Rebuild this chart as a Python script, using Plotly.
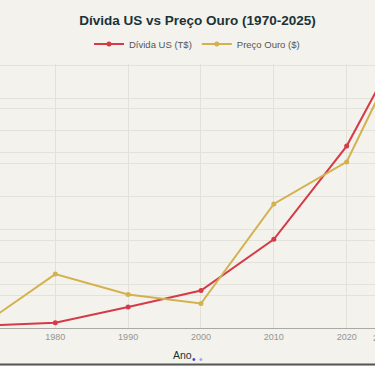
import plotly.graph_objects as go

years = [1970, 1980, 1990, 2000, 2010, 2020, 2025]
debt_trillions = [0.37, 0.8, 3.2, 5.7, 13.5, 27.7, 38.0]
gold_price = [36, 615, 383, 279, 1415, 1895, 2750]
x_tick_vals = [1970, 1980, 1990, 2000, 2010, 2020, 2025]
x_tick_text = [str(v) for v in x_tick_vals]

BG = "#F3F2EC"
GRID = "#E2E1DA"
RED = "#D63A48"
GOLD = "#D3B14E"
FONT = "Liberation Sans, Arial, sans-serif"

x_range = [1972.41, 2023.89]

fig = go.Figure()
fig.add_trace(go.Scatter(
    x=years, y=debt_trillions, name="Dívida US (T$)", mode="lines+markers",
    line=dict(color=RED, width=2), marker=dict(size=5, color=RED), yaxis="y"))
fig.add_trace(go.Scatter(
    x=years, y=gold_price, name="Preço Ouro ($)", mode="lines+markers",
    line=dict(color=GOLD, width=2), marker=dict(size=5, color=GOLD), yaxis="y2"))

fig.update_layout(
    width=375, height=366,
    margin=dict(l=0, r=0, t=64, b=38),
    paper_bgcolor=BG, plot_bgcolor=BG,
    font=dict(family=FONT, color="#555"),
    title=dict(text="Dívida US vs Preço Ouro (1970-2025)", x=197.5 / 375, xanchor="center",
               y=1 - 20 / 366, yanchor="middle",
               font=dict(size=13.5, color="#1A3338", family=FONT, weight=600)),
    legend=dict(orientation="h", x=197 / 375, xanchor="center", y=1 + 20 / 264, yanchor="middle",
                font=dict(size=9.5, color="#555"), bgcolor="rgba(0,0,0,0)", itemwidth=30,
                tracegroupgap=0),
    showlegend=True,
    xaxis=dict(range=x_range, tickvals=x_tick_vals, ticktext=x_tick_text,
               showgrid=True, gridcolor=GRID, showline=True, linecolor="#A9A9A6",
               zeroline=False, ticks="", tickfont=dict(size=9, color="#959592")),
    yaxis=dict(range=[0, 40.2], dtick=5, showgrid=True, gridcolor=GRID,
               showticklabels=False, zeroline=False, ticks=""),
    yaxis2=dict(range=[0, 3012], dtick=500, overlaying="y", side="right",
                showgrid=True, gridcolor=GRID, showticklabels=False, zeroline=False, ticks=""),
    annotations=[
        dict(text="2025", xref="paper", yref="paper",
             x=(2025 - x_range[0]) / (x_range[1] - x_range[0]), y=-10 / 264,
             xanchor="center", yanchor="middle", showarrow=False,
             font=dict(size=9, color="#959592")),
        dict(text="Ano", xref="paper", yref="paper", x=182 / 375, y=-27 / 264,
             xanchor="center", yanchor="middle", showarrow=False,
             font=dict(size=10.5, color="#1A3338")),
        dict(text="•", xref="paper", yref="paper", x=194 / 375, y=-31 / 264,
             xanchor="center", yanchor="middle", showarrow=False,
             font=dict(size=10, color="#3F3FD0")),
        dict(text="•", xref="paper", yref="paper", x=201 / 375, y=-31 / 264,
             xanchor="center", yanchor="middle", showarrow=False,
             font=dict(size=10, color="#A5A5E2")),
    ],
    shapes=[dict(type="line", xref="paper", yref="paper", x0=0, x1=1,
                 y0=-36.5 / 264, y1=-36.5 / 264, line=dict(color="#555", width=2))],
)

fig.write_html("out.html", config={"displayModeBar": False},
               post_script="document.body.style.margin='0';")
